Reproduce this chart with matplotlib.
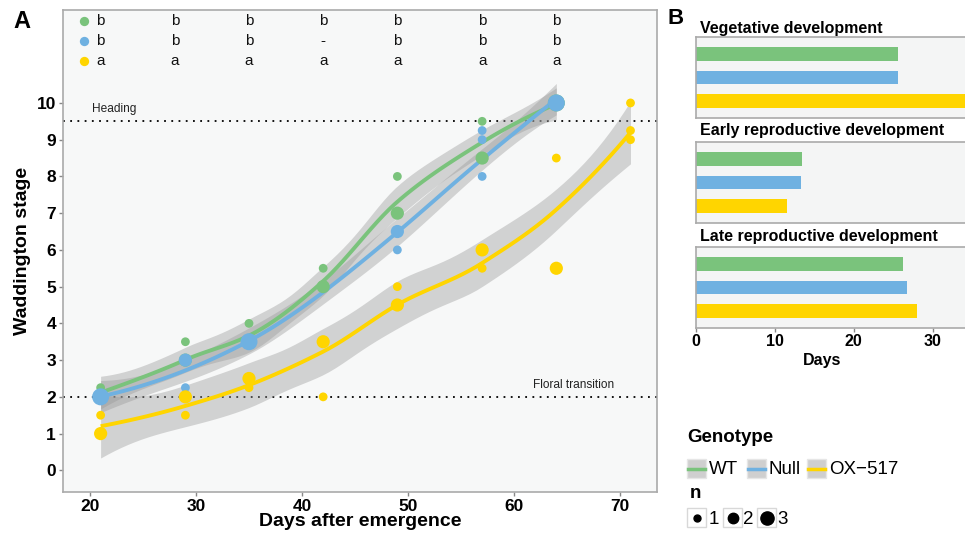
import numpy as np
import matplotlib
matplotlib.use("Agg")
import matplotlib.pyplot as plt
from matplotlib.patches import Rectangle
from matplotlib.lines import Line2D

plt.rcParams['font.family'] = ['Liberation Sans', 'DejaVu Sans']

# ---------------- data ----------------
genotypes = ["WT", "Null", "OX-517"]
colors = {"WT": "#7AC37C", "Null": "#6FB1E1", "OX-517": "#FFD500"}

wt_days = [21, 21, 29, 29, 35, 35, 42, 42, 49, 49, 57, 57, 64]
wt_stage = [2.25, 2.0, 3.5, 3.0, 4.0, 3.5, 5.5, 5.0, 8.0, 7.0, 9.5, 8.5, 10.0]
wt_n = [1, 2, 1, 2, 1, 2, 1, 2, 1, 2, 1, 2, 3]

null_days = [21, 29, 29, 35, 49, 49, 57, 57, 57, 64]
null_stage = [2.0, 3.0, 2.25, 3.5, 6.5, 6.0, 9.25, 9.0, 8.0, 10.0]
null_n = [3, 2, 1, 3, 2, 1, 1, 1, 1, 3]

ox_days = [21, 21, 29, 29, 35, 35, 42, 42, 49, 49, 57, 57, 64, 64, 71, 71, 71]
ox_stage = [1.5, 1.0, 2.0, 1.5, 2.5, 2.25, 3.5, 2.0, 5.0, 4.5, 6.0, 5.5, 8.5, 5.5, 10.0, 9.25, 9.0]
ox_n = [1, 2, 2, 1, 2, 1, 2, 1, 1, 2, 2, 1, 1, 2, 1, 1, 1]

letter_days = [21, 28, 35, 42, 49, 57, 64]
letters_wt = ["b", "b", "b", "b", "b", "b", "b"]
letters_null = ["b", "b", "b", "-", "b", "b", "b"]
letters_ox = ["a", "a", "a", "a", "a", "a", "a"]

phases = ["Vegetative development", "Early reproductive development", "Late reproductive development"]
phase_wt = [25.6, 13.5, 26.3]
phase_null = [25.6, 13.3, 26.7]
phase_ox = [35.0, 11.6, 28.0]

heading_stage = 9.5
floral_stage = 2.0

# ---------------- helpers ----------------
W, H = 965, 533
fig = plt.figure(figsize=(W / 100, H / 100), dpi=100)


def rect(l, t, r, b):
    return [l / W, 1 - b / H, (r - l) / W, (b - t) / H]


def fx(px):
    return px / W


def fy(py):
    return 1 - py / H


def tq975(df):
    z = 1.959964
    g1 = (z ** 3 + z) / 4
    g2 = (5 * z ** 5 + 16 * z ** 3 + 3 * z) / 96
    g3 = (3 * z ** 7 + 19 * z ** 5 + 17 * z ** 3 - 15 * z) / 384
    return z + g1 / df + g2 / df ** 2 + g3 / df ** 3


def loess(x, y, xs, span=0.75):
    """Local quadratic loess evaluated at vertices (unique x) with cubic
    Hermite interpolation between them, as R's surface='interpolate'."""
    x = np.asarray(x, float)
    y = np.asarray(y, float)
    n = len(x)
    q = int(np.floor(n * span))

    def rows(x0):
        d = np.abs(x - x0)
        h = np.sort(d)[q - 1] * 1.0001 + 1e-9
        u = np.clip(d / h, 0, 1)
        w = (1 - u ** 3) ** 3
        X = np.column_stack([np.ones(n), x - x0, (x - x0) ** 2])
        XtW = X.T * w
        A = XtW @ X
        S = np.linalg.solve(A, XtW)
        return S[0], S[1]

    verts = np.unique(x)
    V0, V1 = zip(*[rows(v) for v in verts])
    V0 = np.array(V0)
    V1 = np.array(V1)

    def op(xq):
        i = np.searchsorted(verts, xq, side="right") - 1
        i = min(max(i, 0), len(verts) - 2)
        a, b = verts[i], verts[i + 1]
        hh = b - a
        t = (xq - a) / hh
        h00 = 2 * t ** 3 - 3 * t ** 2 + 1
        h10 = t ** 3 - 2 * t ** 2 + t
        h01 = -2 * t ** 3 + 3 * t ** 2
        h11 = t ** 3 - t ** 2
        return h00 * V0[i] + h10 * hh * V1[i] + h01 * V0[i + 1] + h11 * hh * V1[i + 1]

    L = np.array([op(xi) for xi in x])
    Ls = np.array([op(x0) for x0 in xs])
    fit = Ls @ y
    res = y - L @ y
    IL = np.eye(n) - L
    M = IL.T @ IL
    d1 = np.trace(M)
    d2 = np.trace(M @ M)
    sigma = np.sqrt(np.sum(res ** 2) / d1)
    se = sigma * np.sqrt(np.sum(Ls ** 2, axis=1))
    t = tq975(d1 ** 2 / d2)
    return fit, fit - t * se, fit + t * se


# ---------------- panel A ----------------
axA = fig.add_axes(rect(63, 10, 657, 492))
axA.set_facecolor("#F7F8F8")
axA.set_xlim(17.45, 73.5)
axA.set_ylim(-0.59, 12.53)

series = [("WT", wt_days, wt_stage, wt_n),
          ("Null", null_days, null_stage, null_n),
          ("OX-517", ox_days, ox_stage, ox_n)]

fits = {}
for name, d, s, nn in series:
    xr = np.repeat(d, nn)
    yr = np.repeat(s, nn)
    xs = np.linspace(min(d), max(d), 80)
    fits[name] = (xs,) + loess(xr, yr, xs)

for name, d, s, nn in series:
    xs, fit, lo, hi = fits[name]
    axA.fill_between(xs, lo, hi, color="#999999", alpha=0.4, lw=0, zorder=2)
for name, d, s, nn in series:
    xs, fit, lo, hi = fits[name]
    axA.plot(xs, fit, color=colors[name], lw=2.8, zorder=3, solid_capstyle="butt")

size_map = {1: 40, 2: 90, 3: 150}
for name, d, s, nn in series:
    axA.scatter(d, s, s=[size_map[k] for k in nn], color=colors[name], lw=0, zorder=4)

axA.axhline(heading_stage, color="black", lw=1.3, dashes=(1, 3), zorder=1)
axA.axhline(floral_stage, color="black", lw=1.3, dashes=(1, 3), zorder=1)
axA.text(22.3, 9.84, "Heading", fontsize=8.6, ha="center", va="center", color="#222222")
axA.text(65.6, 2.31, "Floral transition", fontsize=8.6, ha="center", va="center", color="#222222")

row_y = [12.22, 11.68, 11.14]
for lets, yv, name in zip([letters_wt, letters_null, letters_ox], row_y, genotypes):
    axA.scatter([19.45], [yv], s=45, color=colors[name], lw=0, zorder=4)
    for xd, lt in zip(letter_days, lets):
        axA.text(xd, yv, lt, fontsize=11, ha="center", va="center", color="#111111")

axA.set_xticks([20, 30, 40, 50, 60, 70])
axA.set_yticks(range(0, 11))
axA.tick_params(length=3, width=1, color="#888888", pad=2, labelsize=12.5)
for lab in axA.get_xticklabels() + axA.get_yticklabels():
    lab.set_fontweight("bold")
for sp in axA.spines.values():
    sp.set_color("#AAAAAA")
    sp.set_linewidth(1.2)
axA.set_xlabel("Days after emergence", fontsize=14, fontweight="bold", labelpad=-1)
axA.set_ylabel("Waddington stage", fontsize=14, fontweight="bold", labelpad=4)

fig.text(fx(22), fy(21), "A", fontsize=17, fontweight="bold", ha="center", va="center")
fig.text(fx(676), fy(18), "B", fontsize=16, fontweight="bold", ha="center", va="center")

# ---------------- panel B ----------------
px_per_day = 7.9
left_px = 695.7
right_px = 975
xmaxB = (right_px - left_px) / px_per_day
panels = [(37, 118, 29), (142, 223, 131), (247, 328, 237)]
for i, ((top, bot, ty), title) in enumerate(zip(panels, phases)):
    ax = fig.add_axes(rect(left_px, top, right_px, bot))
    ax.set_facecolor("#F4F5F5")
    ax.set_xlim(0, xmaxB)
    ax.set_ylim(0.3, 3.7)
    vals = [phase_wt[i], phase_null[i], phase_ox[i]]
    ax.barh([3, 2, 1], vals, height=0.58, color=[colors[g] for g in genotypes], lw=0)
    ax.set_yticks([])
    for sp in ax.spines.values():
        sp.set_color("#AAAAAA")
        sp.set_linewidth(1.2)
    ax.spines["right"].set_visible(False)
    if i < 2:
        ax.set_xticks([])
    else:
        ax.set_xticks([0, 10, 20, 30])
        ax.tick_params(axis="x", length=3, width=1, color="#888888", pad=1, labelsize=11.5)
        for lab in ax.get_xticklabels():
            lab.set_fontweight("bold")
    fig.text(fx(700), fy(ty), title, fontsize=11.5, fontweight="bold", ha="left", va="center")

fig.text(fx(822), fy(360), "Days", fontsize=11.5, fontweight="bold", ha="center", va="center")

# ---------------- legend ----------------
fig.text(fx(687), fy(437), "Genotype", fontsize=13.5, fontweight="bold", ha="left", va="center")
key_x = [687, 747, 807]
text_x = [709, 769, 829]
key_labels = ["WT", "Null", "OX\u2212517"]
for kx, tx, lab, g in zip(key_x, text_x, key_labels, genotypes):
    fig.patches.append(Rectangle((fx(kx), fy(478)), 19 / W, 19 / H, transform=fig.transFigure,
                                 facecolor="#CFCFCF", edgecolor="#E6E6E6", lw=1))
    fig.lines.append(Line2D([fx(kx + 1), fx(kx + 18)], [fy(468.5), fy(468.5)], transform=fig.transFigure,
                            color=colors[g], lw=2.5))
    fig.text(fx(tx), fy(469), lab, fontsize=13.5, ha="left", va="center")

fig.text(fx(690), fy(493), "n", fontsize=13.5, fontweight="bold", ha="left", va="center")
size_key_x = [687, 723, 757]
size_txt_x = [709, 743, 777]
size_ms = [5, 7.5, 9.5]
for kx, tx, ms, lab in zip(size_key_x, size_txt_x, size_ms, ["1", "2", "3"]):
    fig.patches.append(Rectangle((fx(kx), fy(527)), 19 / W, 19 / H, transform=fig.transFigure,
                                 facecolor="white", edgecolor="#D8D8D8", lw=1))
    fig.lines.append(Line2D([fx(kx + 9.5)], [fy(517.5)], transform=fig.transFigure,
                            marker="o", ms=ms, color="black", lw=0))
    fig.text(fx(tx), fy(519), lab, fontsize=13.5, ha="left", va="center")

fig.savefig("out.png", dpi=100)
